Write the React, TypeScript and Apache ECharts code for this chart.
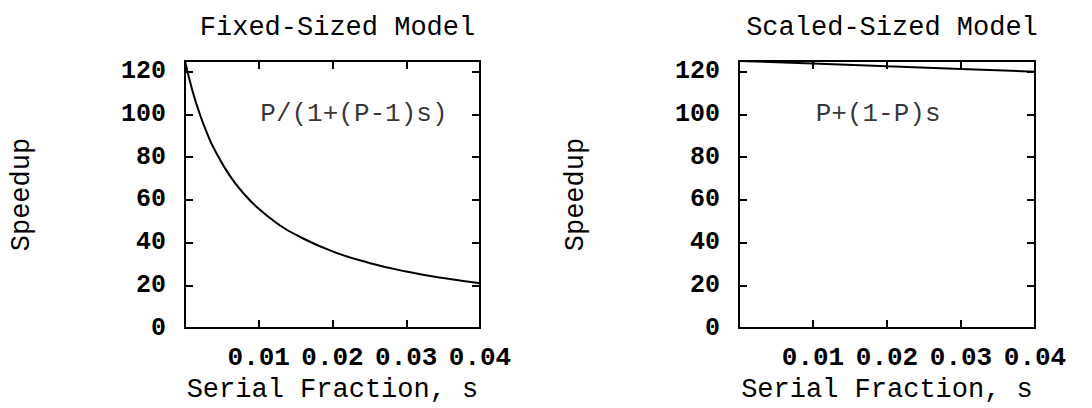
import React, { useEffect, useRef } from "react";
import * as echarts from "echarts";

// Serial fraction s (x) and read speedup values (y)
const fixedS = [0, 0.001, 0.002, 0.003, 0.004, 0.006, 0.008, 0.01, 0.0125, 0.015, 0.02, 0.025, 0.03, 0.035, 0.04];
const fixedSpeedup = [125, 111.2, 100.2, 91.1, 83.6, 71.7, 62.8, 55.8, 49.0, 43.7, 35.9, 30.5, 26.5, 23.4, 21.0];

const scaledS = [0, 0.01, 0.02, 0.03, 0.04];
const scaledSpeedup = [125, 123.8, 122.5, 121.3, 120.0];

const panelTitles = ["Fixed-Sized Model", "Scaled-Sized Model"];
const formulas = ["P/(1+(P-1)s)", "P+(1-P)s"];
const formulaPos = [[0.0229, 100], [0.0188, 100]];
const xName = "Serial Fraction, s";
const yName = "Speedup";

const FONT = '"Liberation Mono", "DejaVu Sans Mono", monospace';

export default function App() {
  const ref = useRef<HTMLDivElement>(null);
  useEffect(() => {
    document.body.style.margin = "0";
    const chart = echarts.init(ref.current!, null, { renderer: "svg" });
    const grids = [
      { left: 185, top: 61, width: 295, height: 276 },
      { left: 739, top: 61, width: 296, height: 276 },
    ];
    const txt = { color: "#000", fontFamily: FONT, fontSize: 26, fontWeight: "normal" as const };
    const tickTxt = { color: "#000", fontFamily: FONT, fontSize: 25, fontWeight: "bold" as const };
    const nameTxt = { ...txt, fontSize: 27 };
    const line = { color: "#000", width: 2 };
    const xAxes: any[] = [];
    const yAxes: any[] = [];
    grids.forEach((_, g) => {
      xAxes.push({
        type: "value", gridIndex: g, min: 0, max: 0.04, interval: 0.01, position: "bottom",
        axisLine: { onZero: false, lineStyle: line },
        axisTick: { inside: true, length: 8, lineStyle: line },
        axisLabel: { ...tickTxt, fontSize: 26, margin: 17, formatter: (v: number) => (v === 0 ? "" : v.toFixed(2)) },
        splitLine: { show: false },
        name: xName, nameLocation: "middle", nameGap: 45, nameTextStyle: nameTxt,
      });
      xAxes.push({
        type: "value", gridIndex: g, min: 0, max: 0.04, interval: 0.01, position: "top",
        axisLine: { onZero: false, lineStyle: line },
        axisTick: { inside: true, length: 8, lineStyle: line },
        axisLabel: { show: false }, splitLine: { show: false },
      });
      yAxes.push({
        type: "value", gridIndex: g, min: 0, max: 125, interval: 20, position: "left",
        axisLine: { onZero: false, lineStyle: line },
        axisTick: { inside: true, length: 8, lineStyle: line },
        axisLabel: { ...tickTxt, margin: 19, showMaxLabel: false },
        splitLine: { show: false },
        name: yName, nameLocation: "middle", nameGap: 150, nameRotate: 90, nameTextStyle: nameTxt,
      });
      yAxes.push({
        type: "value", gridIndex: g, min: 0, max: 125, interval: 20, position: "right",
        axisLine: { onZero: false, lineStyle: line },
        axisTick: { inside: true, length: 8, lineStyle: line },
        axisLabel: { show: false }, splitLine: { show: false },
      });
    });
    const series: any[] = [
      {
        type: "line", xAxisIndex: 0, yAxisIndex: 0, smooth: true, showSymbol: false,
        lineStyle: line, data: fixedS.map((s, i) => [s, fixedSpeedup[i]]),
      },
      {
        type: "line", xAxisIndex: 2, yAxisIndex: 2, showSymbol: false,
        lineStyle: line, data: scaledS.map((s, i) => [s, scaledSpeedup[i]]),
      },
    ];
    formulas.forEach((f, g) => {
      series.push({
        type: "scatter", xAxisIndex: 2 * g, yAxisIndex: 2 * g, symbolSize: 1,
        itemStyle: { color: "transparent" },
        label: { show: true, position: "inside", formatter: f, ...txt },
        data: [formulaPos[g]],
      });
    });
    chart.setOption({
      animation: false,
      backgroundColor: "#fff",
      title: panelTitles.map((t, g) => ({
        text: t, left: grids[g].left + grids[g].width / 2, top: 9, textAlign: "center",
        textStyle: nameTxt,
      })),
      grid: grids,
      xAxis: xAxes,
      yAxis: yAxes,
      series,
    });
    return () => chart.dispose();
  }, []);
  return <div ref={ref} style={{ width: 1092, height: 408 }} />;
}
